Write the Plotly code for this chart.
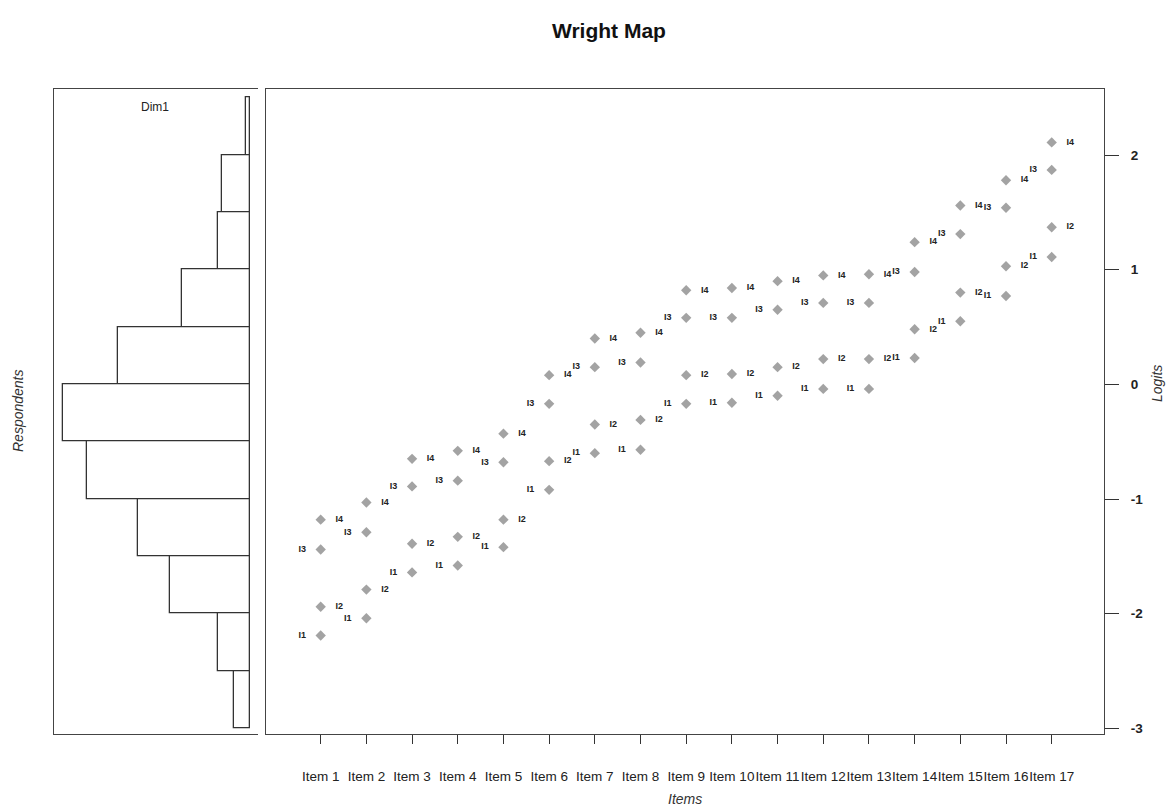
import plotly.graph_objects as go

# ---------------- data ----------------
item_pos = list(range(1, 18))
item_labels = [f"Item {i}" for i in item_pos]

# Thurstonian thresholds (logits) per item
thr_I1 = [-2.19, -2.04, -1.64, -1.58, -1.42, -0.92, -0.60, -0.57, -0.17, -0.16,
          -0.10, -0.04, -0.04, 0.23, 0.55, 0.77, 1.11]
thr_I2 = [-1.94, -1.79, -1.39, -1.33, -1.18, -0.67, -0.35, -0.31, 0.08, 0.09,
          0.15, 0.22, 0.22, 0.48, 0.80, 1.03, 1.37]
thr_I3 = [-1.44, -1.29, -0.89, -0.84, -0.68, -0.17, 0.15, 0.19, 0.58, 0.58,
          0.65, 0.71, 0.71, 0.98, 1.31, 1.54, 1.87]
thr_I4 = [-1.18, -1.03, -0.65, -0.58, -0.43, 0.08, 0.40, 0.45, 0.82, 0.84,
          0.90, 0.95, 0.96, 1.24, 1.56, 1.78, 2.11]

# respondent histogram (bins of 0.5 logit)
bin_mid = [2.25, 1.75, 1.25, 0.75, 0.25, -0.25, -0.75, -1.25, -1.75, -2.25, -2.75]
bin_count = [1, 7, 8, 17, 33, 47, 41, 28, 20, 8, 4]

y_ticks = [-3, -2, -1, 0, 1, 2]

# ---------------- layout helpers ----------------
W, H = 1166, 807
FONT = "Liberation Sans, Arial, sans-serif"


def fx(p):
    return p / W


def fy(p):
    return 1 - p / H


fig = go.Figure()

fig.add_trace(go.Bar(
    x=bin_count, y=bin_mid, orientation="h", width=0.5,
    marker=dict(color="white", line=dict(color="#333333", width=1.3)),
    xaxis="x2", yaxis="y2", hoverinfo="skip", showlegend=False,
))

series = [
    ("I1", thr_I1, "middle left"),
    ("I2", thr_I2, "middle right"),
    ("I3", thr_I3, "middle left"),
    ("I4", thr_I4, "middle right"),
]
for name, vals, pos in series:
    # diamonds
    fig.add_trace(go.Scatter(
        x=item_pos, y=vals, mode="markers",
        marker=dict(symbol="diamond", size=8, color="#a3a3a3"),
        xaxis="x", yaxis="y", hoverinfo="skip", showlegend=False,
    ))
    # threshold labels (invisible wider marker to push text away)
    fig.add_trace(go.Scatter(
        x=item_pos, y=vals, mode="markers+text",
        text=[name] * len(vals), textposition=pos,
        textfont=dict(family=FONT, size=9, color="#222222", weight="bold"),
        marker=dict(symbol="circle", size=22, color="rgba(0,0,0,0)"),
        xaxis="x", yaxis="y", hoverinfo="skip", showlegend=False,
        cliponaxis=False,
    ))

ydom = [fy(734.3), fy(89.3)]
yrange = [-3.052, 2.573]

fig.update_layout(
    width=W, height=H,
    margin=dict(l=0, r=0, t=0, b=0, autoexpand=False),
    paper_bgcolor="white", plot_bgcolor="white",
    font=dict(family=FONT, color="#222222"),
    showlegend=False,
    bargap=0,
    xaxis=dict(
        domain=[fx(266), fx(1104)], range=[-0.197, 18.145], anchor="y",
        tickmode="array", tickvals=item_pos, ticktext=item_labels,
        ticks="outside", ticklen=9, tickcolor="#333333", tickwidth=1.3,
        tickangle=0, tickfont=dict(size=13.5, color="#222222"),
        ticklabelstandoff=20,
        showline=True, mirror=True, linecolor="#444444", linewidth=1.3,
        showgrid=False, zeroline=False,
    ),
    yaxis=dict(
        domain=ydom, range=yrange, anchor="x", side="right",
        tickmode="array", tickvals=y_ticks,
        ticktext=[f"<b>{v}</b>" for v in y_ticks],
        ticks="outside", ticklen=14, tickcolor="#333333", tickwidth=1.3,
        tickfont=dict(size=13.5, color="#222222"),
        ticklabelstandoff=9,
        showline=True, mirror=True, linecolor="#444444", linewidth=1.3,
        showgrid=False, zeroline=False,
    ),
    xaxis2=dict(
        domain=[fx(54), fx(258)], range=[49.18, -2.0], anchor="y2",
        showticklabels=False, ticks="",
        showline=True, mirror=True, linecolor="#444444", linewidth=1.3,
        showgrid=False, zeroline=False,
    ),
    yaxis2=dict(
        domain=ydom, range=yrange, anchor="x2",
        showticklabels=False, ticks="",
        showline=True, mirror=False, linecolor="#444444", linewidth=1.3,
        showgrid=False, zeroline=False,
    ),
    annotations=[
        dict(text="<b>Wright Map</b>", x=fx(609), y=fy(30), xref="paper", yref="paper",
             showarrow=False, font=dict(size=21, color="#111111"),
             xanchor="center", yanchor="middle"),
        dict(text="Dim1", x=fx(155), y=fy(107), xref="paper", yref="paper",
             showarrow=False, font=dict(size=12, color="#222222"),
             xanchor="center", yanchor="middle"),
        dict(text="<i>Respondents</i>", x=fx(18), y=fy(411), xref="paper", yref="paper",
             showarrow=False, textangle=-90, font=dict(size=14, color="#333333"),
             xanchor="center", yanchor="middle"),
        dict(text="<i>Logits</i>", x=fx(1157), y=fy(384), xref="paper", yref="paper",
             showarrow=False, textangle=-90, font=dict(size=14, color="#333333"),
             xanchor="center", yanchor="middle"),
        dict(text="<i>Items</i>", x=fx(685), y=fy(799), xref="paper", yref="paper",
             showarrow=False, font=dict(size=14, color="#333333"),
             xanchor="center", yanchor="middle"),
    ],
)

fig.write_html("out.html", config={"displayModeBar": False},
               post_script="document.body.style.margin='0px';")
